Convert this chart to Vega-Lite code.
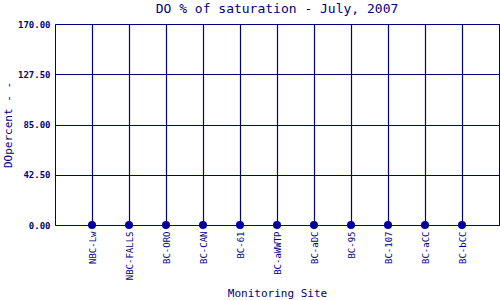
{
  "$schema": "https://vega.github.io/schema/vega-lite/v6.json",
  "autosize": {"type": "none"},
  "width": 444,
  "height": 201,
  "padding": {"left": 55, "top": 24, "right": 1, "bottom": 75},
  "background": "white",
  "title": {
    "text": "DO % of saturation - July, 2007",
    "font": "DejaVu Sans Mono",
    "fontSize": 13,
    "fontWeight": "normal",
    "color": "#000080",
    "anchor": "middle",
    "offset": 4
  },
  "config": {
    "view": {"stroke": "#000080", "strokeWidth": 1},
    "axis": {
      "domain": false,
      "ticks": false,
      "gridColor": "#000080",
      "gridOpacity": 1,
      "gridWidth": 1.2,
      "labelFont": "DejaVu Sans Mono",
      "labelFontSize": 9,
      "labelColor": "#000080",
      "titleFont": "DejaVu Sans Mono",
      "titleFontSize": 11,
      "titleFontWeight": "normal",
      "titleColor": "#000080"
    }
  },
  "data": {
    "values": [
      {"site": "NBC-Lw", "value": 0},
      {"site": "NBC-FALLS", "value": 0},
      {"site": "BC-ORO", "value": 0},
      {"site": "BC-CAN", "value": 0},
      {"site": "BC-61", "value": 0},
      {"site": "BC-aWWTP", "value": 0},
      {"site": "BC-aDC", "value": 0},
      {"site": "BC-95", "value": 0},
      {"site": "BC-107", "value": 0},
      {"site": "BC-aCC", "value": 0},
      {"site": "BC-bCC", "value": 0}
    ]
  },
  "mark": {"type": "point", "filled": true, "size": 64, "color": "#0000A0", "opacity": 1},
  "encoding": {
    "x": {
      "field": "site",
      "type": "nominal",
      "sort": null,
      "scale": {"type": "point", "padding": 1},
      "axis": {
        "title": "Monitoring Site",
        "labelAngle": 270,
        "labelAlign": "right",
        "labelBaseline": "middle",
        "labelPadding": 6,
        "titleY": 62,
        "grid": true
      }
    },
    "y": {
      "field": "value",
      "type": "quantitative",
      "scale": {"domain": [0, 170], "nice": false},
      "axis": {
        "title": "DOpercent - -",
        "values": [0, 42.5, 85, 127.5, 170],
        "format": ".2f",
        "labelPadding": 5,
        "labelFontWeight": "bold",
        "titleX": -42,
        "grid": true
      }
    }
  }
}
